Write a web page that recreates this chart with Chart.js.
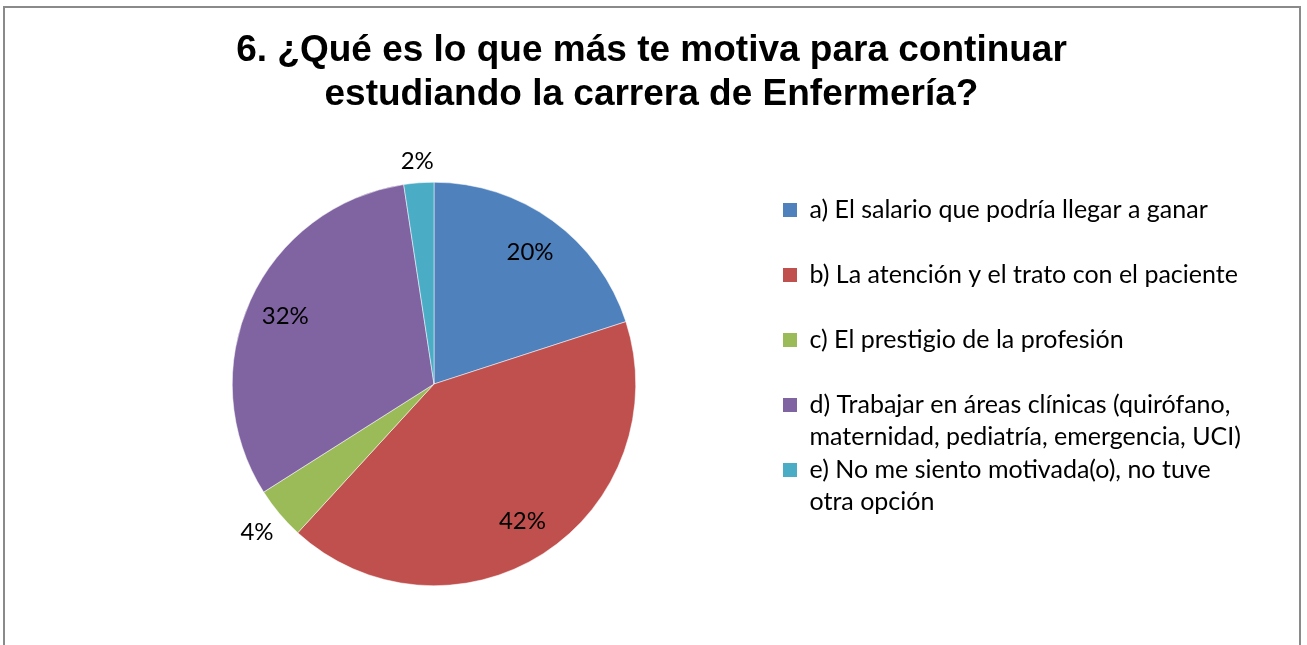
<!DOCTYPE html>
<html lang="es">
<head>
<meta charset="utf-8">
<title>6. ¿Qué es lo que más te motiva para continuar estudiando la carrera de Enfermería?</title>
<script src="https://cdn.jsdelivr.net/npm/chart.js@4.4.1/dist/chart.umd.min.js"></script>
<style>
  html, body { margin: 0; padding: 0; background: #ffffff; overflow: hidden; }
  #frame { position: absolute; left: 3px; top: 6px; width: 1294px; height: 700px; border: 2px solid #8a8a8a; box-sizing: content-box; }
  #c { position: absolute; left: 0; top: 0; }
</style>
</head>
<body>
<div id="frame"></div>
<canvas id="c" width="1307" height="645"></canvas>
<script>
// ---- data ----
const titleLines = ['6. ¿Qué es lo que más te motiva para continuar', 'estudiando la carrera de Enfermería?'];
const categories = [
  ['a) El salario que podría llegar a ganar'],
  ['b) La atención y el trato con el paciente'],
  ['c) El prestigio de la profesión'],
  ['d) Trabajar en áreas clínicas (quirófano,', 'maternidad, pediatría, emergencia, UCI)'],
  ['e) No me siento motivada(o), no tuve', 'otra opción']
];
const values = [20, 41.8, 4.2, 31.6, 2.4];   // percent shares
const colors = ['#4F81BD', '#C0504D', '#9BBB59', '#8064A2', '#4BACC6'];

// ---- styling constants ----
const LEGEND_FONT = 25;
const LEGEND_BOX = 14;
const LEGEND_PAD = 1;
const LEGEND_LEFT = 782;     // target left edge of legend block
const PIE_CENTER_X = 434;
const CANVAS_W = 1307;

// ---- percentage labels drawn from the arcs ----
const pctLabels = {
  id: 'pctLabels',
  afterDatasetsDraw(chart) {
    const ctx = chart.ctx;
    const meta = chart.getDatasetMeta(0);
    const data = chart.data.datasets[0].data;
    const total = data.reduce((a, b) => a + b, 0);
    ctx.save();
    ctx.font = '24px Lato';
    ctx.fillStyle = '#000000';
    ctx.textAlign = 'center';
    ctx.textBaseline = 'middle';
    meta.data.forEach((arc, i) => {
      const p = arc.getProps(['x', 'y', 'startAngle', 'endAngle', 'outerRadius'], true);
      const mid = (p.startAngle + p.endAngle) / 2;
      const pct = Math.round(data[i] / total * 100);
      const text = pct + '%';
      const cos = Math.cos(mid), sin = Math.sin(mid);
      let r;
      if (pct >= 10) {
        r = p.outerRadius * 0.81;
      } else {
        const w = ctx.measureText(text).width;
        r = p.outerRadius + 10 + Math.abs(cos) * w / 2 + Math.abs(sin) * 10;
      }
      ctx.fillText(text, p.x + cos * r, p.y + sin * r);
    });
    ctx.restore();
  }
};

function legendTexts() {
  return categories.map(lines => lines.length > 1 ? lines : [lines[0], '']);
}

function build() {
  // reproduce Chart.js legend width so the layout can be balanced
  const mctx = document.createElement('canvas').getContext('2d');
  mctx.font = LEGEND_FONT + 'px Lato, sans-serif';
  let maxItem = 0;
  legendTexts().forEach(t => {
    const longest = t.reduce((a, b) => a.length > b.length ? a : b);
    maxItem = Math.max(maxItem, LEGEND_BOX + LEGEND_FONT / 2 + mctx.measureText(longest).width);
  });
  const legendW = LEGEND_PAD + maxItem + 10;
  const padRight = CANVAS_W - LEGEND_LEFT - legendW;
  const padLeft = padRight - 4;
  const spacer = Math.max(0, 2 * PIE_CENTER_X - LEGEND_LEFT - padLeft);

  new Chart(document.getElementById('c'), {
    type: 'pie',
    data: {
      labels: categories.map(l => l.join(' ')),
      datasets: [{
        data: values,
        backgroundColor: colors,
        borderColor: '#ffffff',
        borderWidth: 0.5
      }]
    },
    options: {
      responsive: false,
      animation: false,
      devicePixelRatio: 1,
      layout: { padding: { left: padLeft, right: padRight, top: 0, bottom: 59 } },
      scales: {
        y: {
          type: 'linear',
          position: 'left',
          display: false,
          afterFit(scale) { scale.width = spacer; }
        }
      },
      plugins: {
        tooltip: { enabled: false },
        title: {
          display: true,
          text: titleLines,
          color: '#000000',
          font: { family: '"Liberation Sans", Arial, sans-serif', size: 37, weight: 'bold', lineHeight: 44 / 37 },
          padding: { top: 28.5, bottom: 65.5 }
        },
        legend: {
          display: true,
          position: 'right',
          fullSize: false,
          align: 'start',
          title: { display: true, text: '', font: { size: 14.5, lineHeight: 1 }, padding: 0 },
          labels: {
            boxWidth: LEGEND_BOX,
            boxHeight: LEGEND_BOX,
            padding: LEGEND_PAD,
            color: '#000000',
            font: { family: 'Lato, sans-serif', size: LEGEND_FONT, lineHeight: 32 / LEGEND_FONT },
            generateLabels(chart) {
              const texts = legendTexts();
              return texts.map((t, i) => ({
                text: t,
                fillStyle: colors[i],
                strokeStyle: colors[i],
                lineWidth: 0,
                fontColor: '#000000',
                hidden: false,
                index: i
              }));
            }
          }
        }
      }
    },
    plugins: [pctLabels]
  });
}

const fontLoads = (document.fonts && document.fonts.load)
  ? Promise.all([
      document.fonts.load('25px Lato'),
      document.fonts.load('bold 37px "Liberation Sans"')
    ]).catch(() => {})
  : Promise.resolve();
fontLoads.then(build, build);
</script>
</body>
</html>
